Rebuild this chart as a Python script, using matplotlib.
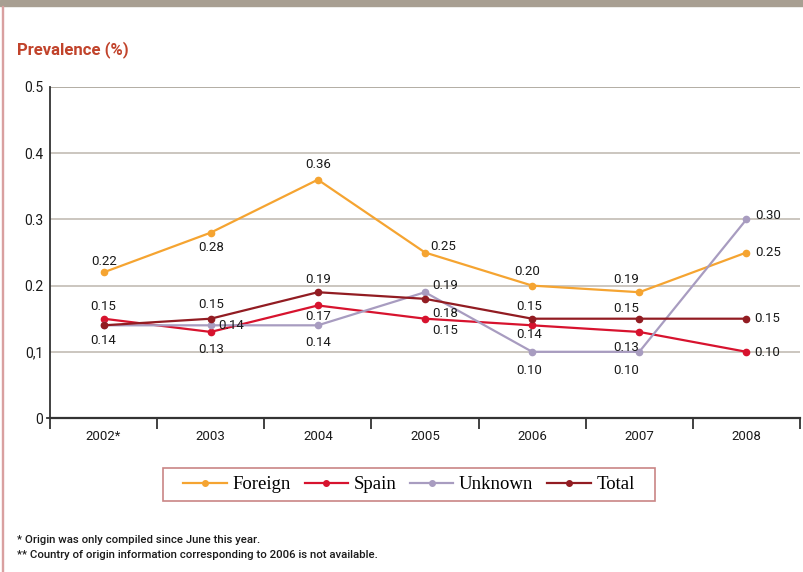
import matplotlib.pyplot as plt
from matplotlib.patches import Rectangle
from matplotlib.lines import Line2D

years = ["2002*", "2003", "2004", "2005", "2006", "2007", "2008"]
foreign = [0.22, 0.28, 0.36, 0.25, 0.20, 0.19, 0.25]
spain = [0.15, 0.13, 0.17, 0.15, 0.14, 0.13, 0.10]
unknown = [0.14, 0.14, 0.14, 0.19, 0.10, 0.10, 0.30]
total = [0.14, 0.15, 0.19, 0.18, 0.15, 0.15, 0.15]

y_ticks = [0, 0.1, 0.2, 0.3, 0.4, 0.5]
y_tick_labels = ["0", "0,1", "0.2", "0.3", "0.4", "0.5"]

footnotes = [
    "* Origin was only compiled since June this year.",
    "** Country of origin information corresponding to 2006 is not available.",
]

# label placement per point: (dx px, dy px, ha); None = no label
label_pos = {
    "Foreign": [(1, 11, "center"), (0, -15, "center"), (0, 15, "center"),
                (5, 6, "left"), (-5, 14, "center"), (-13, 13, "center"),
                (9, 0, "left")],
    "Spain": [(0, 12, "center"), (0, -18, "center"), (0, -11, "center"),
              (7, -12, "left"), (-3, -9, "center"), (-13, -16, "center"),
              (8, -1, "left")],
    "Unknown": [(0, -15, "center"), (8, 0, "left"), (0, -17, "center"),
                (7, 7, "left"), (-3, -19, "center"), (-13, -19, "center"),
                (9, 4, "left")],
    "Total": [None, (0, 14, "center"), (0, 13, "center"),
              (7, -15, "left"), (-3, 12, "center"), (-13, 10, "center"),
              (8, 0, "left")],
}

series = [
    ("Foreign", foreign, "#f5a431"),
    ("Spain", spain, "#d7132e"),
    ("Unknown", unknown, "#a89cc0"),
    ("Total", total, "#921c22"),
]

plt.rcParams["font.family"] = "Roboto"

fig = plt.figure(figsize=(8.04, 5.72), dpi=100)
fig.patches.append(Rectangle((0, 1 - 6 / 572), 1, 6 / 572, transform=fig.transFigure,
                             color="#a89f92", zorder=0))
fig.patches.append(Rectangle((2 / 804, 0), 1.2 / 804, 1 - 6 / 572, transform=fig.transFigure,
                             color="#d9a0a0", zorder=0))

ax = fig.add_axes([50 / 804, 1 - 418 / 572, 750 / 804, 331 / 572])
x = list(range(len(years)))

for name, vals, col in series:
    ax.plot(x, vals, color=col, lw=1.6, marker="o", ms=4.5, zorder=3)
    for i, v in enumerate(vals):
        p = label_pos[name][i]
        if p is None:
            continue
        dx, dy, ha = p
        ax.annotate(f"{v:.2f}", (i, v), xytext=(dx, dy), textcoords="offset pixels",
                    ha=ha, va="center", fontsize=9.5, color="#1a1a1a", zorder=4)

ax.set_xlim(-0.5, len(years) - 0.5)
ax.set_ylim(0, 0.5)

for t in y_ticks[1:]:
    ax.axhline(t, color="#9e978c" if t == 0.5 else "#bdb7ad", lw=1.1, zorder=1)

ax.set_yticks(y_ticks)
ax.set_yticklabels(y_tick_labels, fontsize=10, color="#1a1a1a")
ax.tick_params(axis="y", length=0, pad=5)

# boundaries get the tick marks, centres get the labels
ax.set_xticks([i - 0.5 for i in range(len(years) + 1)])
ax.set_xticklabels([])
ax.set_xticks(x, minor=True)
ax.set_xticklabels(years, minor=True, fontsize=9.5, color="#1a1a1a")
ax.tick_params(axis="x", which="major", direction="out", length=8, width=1.3, color="#333333")
ax.tick_params(axis="x", which="minor", length=0, pad=9)

for s in ["top", "right"]:
    ax.spines[s].set_visible(False)
ax.spines["left"].set_color("#333333")
ax.spines["left"].set_linewidth(1.3)
ax.spines["bottom"].set_color("#333333")
ax.spines["bottom"].set_linewidth(1.6)
ax.plot([-0.5 - 0.03, -0.5], [0, 0], color="#333333", lw=1.3, clip_on=False)

fig.text(17 / 804, 1 - 50 / 572, "Prevalence (%)", fontsize=12, fontweight="bold",
         color="#c1432b", va="center")

# legend box drawn separately so the side padding can be wider than the top/bottom
fig.patches.append(Rectangle((163 / 804, 1 - 501 / 572), 492 / 804, 33 / 572,
                             transform=fig.transFigure, fill=False,
                             edgecolor="#c98585", lw=1.2))
handles = [Line2D([], [], color=col, lw=1.6, marker="o", ms=4) for _, _, col in series]
fig.legend(handles, [s[0] for s in series], loc="center",
           bbox_to_anchor=(409 / 804, 1 - 484.5 / 572), ncol=4, frameon=False,
           handlelength=2.3, handletextpad=0.3, columnspacing=0.75,
           prop={"family": "Liberation Serif", "size": 13.5})

for k, line in enumerate(footnotes):
    fig.text(17 / 804, 1 - (540 + 15 * k) / 572, line, fontsize=8.2, color="#1a1a1a",
             va="center", fontweight="medium")

fig.savefig("out.png", dpi=100)
